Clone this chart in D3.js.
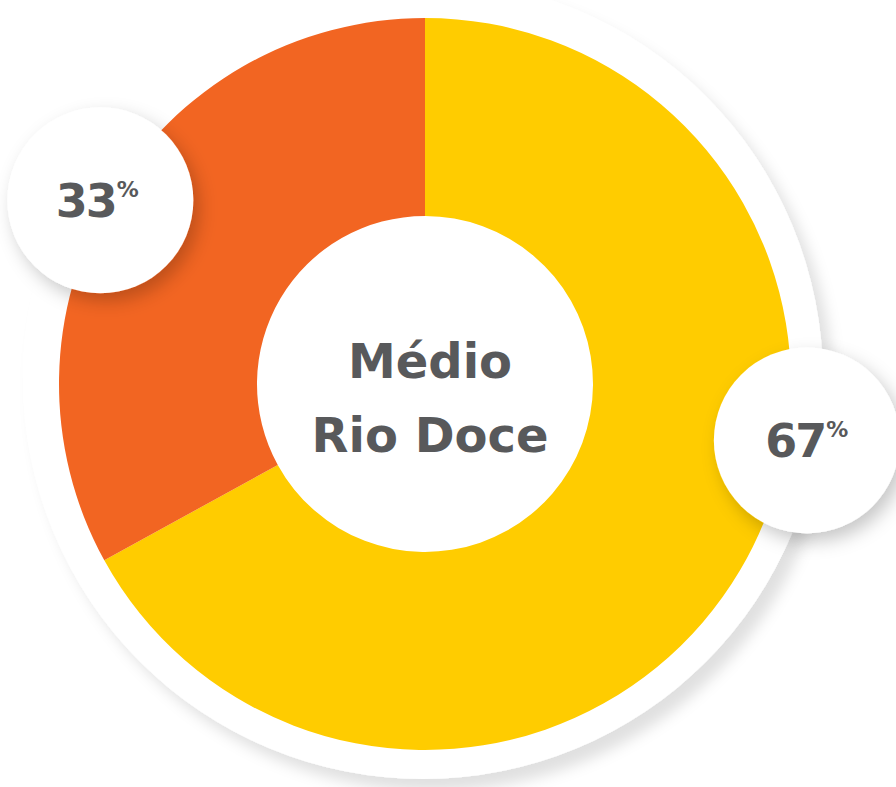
<!DOCTYPE html>
<html><head><meta charset="utf-8">
<script src="https://cdn.jsdelivr.net/npm/d3@7"></script>
<style>html,body{margin:0;padding:0;background:#fff;}svg{display:block;}</style>
</head><body>
<svg id="chart" width="896" height="787"></svg>
<script>
const categories = ["Médio Rio Doce – A", "Médio Rio Doce – B"];
const values = [67, 33];
const labels = ["67", "33"];
const title = ["Médio", "Rio Doce"];
const colors = ["#FFCC00", "#F26522"];

const W = 896, H = 787;
const cx = 425, cy = 384, rOuter = 366, rInner = 168;
// label bubble placement (angle in degrees clockwise from top, radius)
const bubbleLayout = [{ang: 98.4, r: 386}, {ang: 299.5, r: 373}];
const bubbleR = 93;

const svg = d3.select("#chart");
const defs = svg.append("defs");
const f1 = defs.append("filter").attr("id","bgshadow").attr("x","-20%").attr("y","-20%").attr("width","140%").attr("height","140%");
f1.append("feDropShadow").attr("dx",10).attr("dy",12).attr("stdDeviation",7).attr("flood-color","#000").attr("flood-opacity",0.12);
const f2 = defs.append("filter").attr("id","bubshadow").attr("x","-40%").attr("y","-40%").attr("width","180%").attr("height","180%");
f2.append("feDropShadow").attr("dx",6).attr("dy",8).attr("stdDeviation",9).attr("flood-color","#000").attr("flood-opacity",0.22);

// background white disc with shadow
svg.append("circle").attr("cx", cx - 2).attr("cy", cy - 5).attr("r", 400)
  .attr("fill","#fff").attr("filter","url(#bgshadow)");

const g = svg.append("g").attr("transform", `translate(${cx},${cy})`);
const pie = d3.pie().sort(null).value(d => d);
const arc = d3.arc().innerRadius(rInner).outerRadius(rOuter);
const arcs = pie(values);
g.selectAll("path.slice").data(arcs).join("path").attr("class","slice")
  .attr("d", arc).attr("fill", (d,i) => colors[i]);

// center text
const tg = g.append("g");
tg.selectAll("text").data(title).join("text")
  .attr("x", 5).attr("y", (d,i) => -6 + i*74)
  .attr("text-anchor","middle")
  .attr("font-family","'DejaVu Sans', sans-serif").attr("font-weight","bold")
  .attr("font-size", 48).attr("fill","#58595B")
  .text(d => d);

// label bubbles
arcs.forEach((d, i) => {
  const L = bubbleLayout[i];
  const a = L.ang * Math.PI / 180;
  const x = Math.sin(a) * L.r, y = -Math.cos(a) * L.r;
  const bg = g.append("g").attr("transform", `translate(${x},${y})`);
  bg.append("circle").attr("r", bubbleR).attr("fill","#fff").attr("filter","url(#bubshadow)");
  const t = bg.append("text").attr("text-anchor","middle").attr("x", i === 1 ? -3 : 0).attr("y", 17)
    .attr("font-family","'DejaVu Sans', sans-serif").attr("font-weight","bold")
    .attr("fill","#58595B");
  t.append("tspan").attr("font-size", 46).attr("letter-spacing", -2).text(labels[i]);
  t.append("tspan").attr("font-size", 22).attr("dy", -20).attr("dx", 1).text("%");
});
</script>
</body></html>
